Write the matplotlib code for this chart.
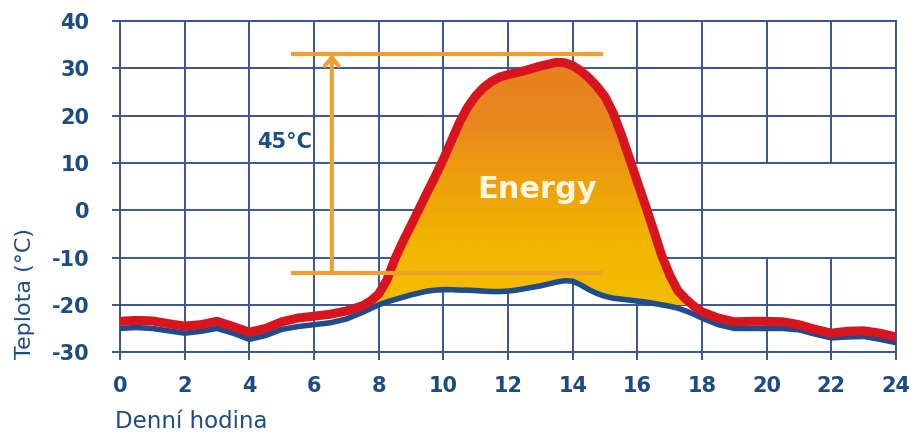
import numpy as np
import matplotlib.pyplot as plt
from matplotlib.colors import LinearSegmentedColormap

plt.rcParams["axes.unicode_minus"] = False

# hodiny a teploty
hodiny = [0, 0.5, 1, 1.5, 2, 2.5, 3, 3.5, 4, 4.5, 5, 5.5, 6, 6.5, 7,
          7.5, 7.75, 8, 8.25, 8.5, 8.75, 9, 9.25, 9.5, 9.75, 10, 10.25,
          10.5, 10.75, 11, 11.25, 11.5, 11.75, 12, 12.25, 12.5, 12.75, 13,
          13.25, 13.5, 13.75, 14, 14.25, 14.5, 14.75, 15, 15.25, 15.5,
          15.75, 16, 16.25, 16.5, 16.75, 17, 17.25, 17.5, 17.75, 18,
          18.5, 19, 19.5, 20, 20.5, 21, 21.5, 22, 22.5, 23, 23.5, 24]
teplota_panel = [-23.5, -23.3, -23.4, -24.0, -24.5, -24.2, -23.5, -24.6,
                 -25.8, -25.0, -23.6, -22.8, -22.4, -22.0, -21.3,
                 -20.2, -19.2, -17.7, -14.8, -10.3, -6.6, -3.2, 0.3, 3.8,
                 7.2, 10.8, 14.7, 18.6, 21.8, 24.2, 26.0, 27.3, 28.2, 28.7,
                 29.1, 29.5, 30.0, 30.5, 30.9, 31.3, 31.2, 30.6, 29.5, 28.0,
                 26.2, 24.0, 20.6, 16.1, 11.1, 6.0, 1.0, -4.2, -9.5, -13.7,
                 -17.0, -18.8, -20.3, -21.5,
                 -22.8, -23.6, -23.5, -23.5, -23.6, -24.2, -25.2, -26.0,
                 -25.6, -25.5, -26.0, -26.8]
teplota_okoli = [-25.0, -24.8, -25.0, -25.5, -26.0, -25.6, -25.0, -26.0,
                 -27.3, -26.5, -25.2, -24.6, -24.2, -23.8, -23.0,
                 -21.6, -20.8, -20.0, -19.4, -18.9, -18.4, -17.9, -17.5,
                 -17.1, -16.9, -16.8, -16.8, -16.9, -16.9, -17.0, -17.1,
                 -17.2, -17.2, -17.1, -16.9, -16.6, -16.3, -16.0, -15.6,
                 -15.2, -14.9, -15.0, -15.8, -16.8, -17.6, -18.2, -18.6,
                 -18.8, -19.0, -19.2, -19.4, -19.7, -20.0, -20.3, -20.7,
                 -21.3, -22.0, -22.8,
                 -24.2, -25.0, -25.0, -25.0, -25.0, -25.3, -26.2, -27.0,
                 -26.8, -26.7, -27.3, -28.0]

x_ticks = list(range(0, 25, 2))
y_ticks = list(range(-30, 41, 10))

# značky rozdílu teplot
horni_mez = 33
dolni_mez = -13.3
rozdil_label = "45°C"

c_grid = "#3a5590"
c_text = "#1d4c80"
c_red = "#d8141f"
c_blue = "#1f4d8c"
c_orange = "#f0a031"

x = np.array(hodiny)
r = np.array(teplota_panel)
b = np.array(teplota_okoli)

fig = plt.figure(figsize=(9.19, 4.32), dpi=100)
ax = fig.add_axes([0.1306, 0.185, 0.8444, 0.766])
ax.set_xlim(0, 24)
ax.set_ylim(-30, 40)

# mřížka (některé úseky chybí)
for xv in x_ticks:
    if xv in (16, 20, 22):
        ax.vlines(xv, -30, -10, color=c_grid, lw=1.4, zorder=1)
        ax.vlines(xv, 10, 40, color=c_grid, lw=1.4, zorder=1)
    else:
        ax.vlines(xv, -30, 40, color=c_grid, lw=1.4, zorder=1)
for yv in y_ticks:
    ax.hlines(yv, 0, 24, color=c_grid, lw=1.4, zorder=1)

for s in ax.spines.values():
    s.set_color(c_grid)
    s.set_linewidth(1.4)

# výplň s přechodem barvy
maska = (x >= 7.5) & (x <= 17.75)
poly = ax.fill_between(x, b, r, where=maska, color="none", lw=0, zorder=2)
cmap = LinearSegmentedColormap.from_list(
    "energy", ["#f2bd00", "#f2b500", "#eea00c", "#e8871e", "#e5801f"])
grad = np.linspace(0, 1, 256).reshape(-1, 1)
img = ax.imshow(grad, cmap=cmap, origin="lower", aspect="auto",
                extent=[0, 24, -20, 32], zorder=2)
img.set_clip_path(poly.get_paths()[0], transform=ax.transData)

ax.plot(x, b, color=c_blue, lw=4, solid_capstyle="round",
        solid_joinstyle="round", zorder=3)
ax.plot(x, r, color=c_red, lw=6.5, solid_capstyle="round",
        solid_joinstyle="round", zorder=4)

# rozdíl teplot
ax.hlines([horni_mez, dolni_mez], 5.3, 14.95, color=c_orange, lw=3, zorder=5)
ax.annotate("", xy=(6.55, horni_mez), xytext=(6.55, dolni_mez),
            arrowprops=dict(arrowstyle="->,head_length=0.6,head_width=0.5",
                            color=c_orange, lw=3, shrinkA=0, shrinkB=0),
            zorder=5)
ax.text(5.95, 14.5, rozdil_label, color=c_text, fontsize=15,
        fontweight="bold", ha="right", va="center", zorder=6)
ax.text(12.9, 4.3, "Energy", color="#fff6e0", fontsize=22,
        fontweight="bold", ha="center", va="center", zorder=6)

ax.set_xticks(x_ticks)
ax.set_yticks(y_ticks)
ax.tick_params(direction="out", length=6, width=1.4, color=c_grid,
               labelcolor=c_text, labelsize=15)
ax.tick_params(axis="x", pad=11)
ax.tick_params(axis="y", pad=16)
for lab in ax.get_xticklabels() + ax.get_yticklabels():
    lab.set_fontweight("bold")

fig.text(0.027, 0.32, "Teplota (°C)", rotation=90, color=c_text,
         fontsize=16, ha="center", va="center")
fig.text(0.125, 0.025, "Denní hodina", color=c_text, fontsize=16.5,
         ha="left", va="center")

fig.savefig("out.png", dpi=100)
